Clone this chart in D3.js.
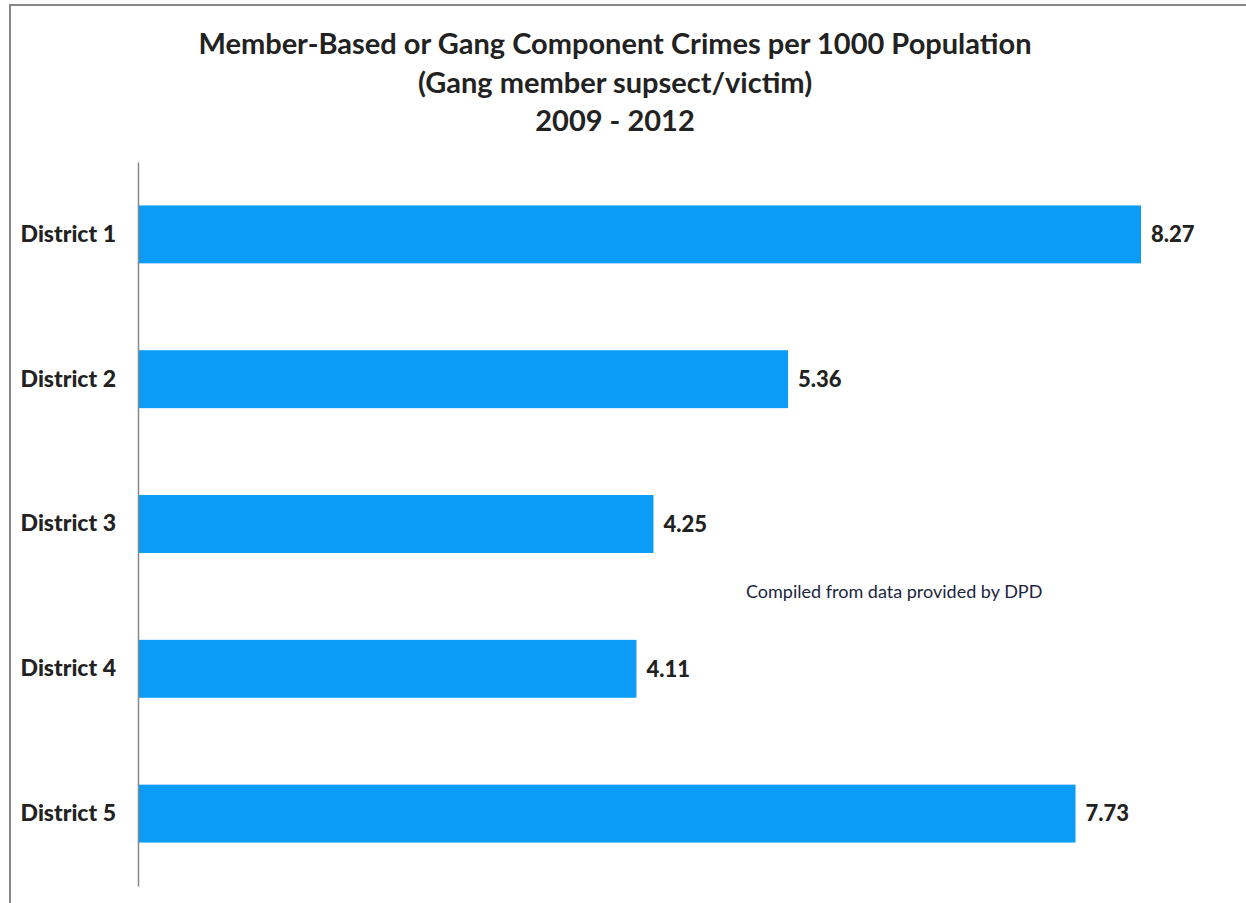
<!DOCTYPE html>
<html><head><meta charset="utf-8">
<script src="https://cdn.jsdelivr.net/npm/d3@7"></script>
<style>body{margin:0;background:#fff;}svg{display:block;}</style>
</head><body>
<svg id="chart" width="1246" height="903"></svg>
<script>
const categories = ["District 1","District 2","District 3","District 4","District 5"];
const values = [8.27, 5.36, 4.25, 4.11, 7.73];
const valueLabels = ["8.27","5.36","4.25","4.11","7.73"];
const titleLines = ["Member-Based or Gang Component Crimes per 1000 Population","(Gang member supsect/victim)","2009 - 2012"];
const note = "Compiled from data provided by DPD";

const svg = d3.select("#chart");
const font = "Lato, 'Open Sans', sans-serif";

// frame
svg.append("rect").attr("x",10).attr("y",5).attr("width",1250).attr("height",910)
  .attr("fill","none").attr("stroke","#888").attr("stroke-width",2);

const x0 = 138;
const x = d3.scaleLinear().domain([0, 8.27]).range([x0, 1141]);
const y = d3.scaleBand().domain(categories).range([162, 886]).paddingInner(0.6).paddingOuter(0.3);

// title
svg.append("g").selectAll("text").data(titleLines).join("text")
  .attr("x", 615).attr("y",(d,i)=>54+i*38.5)
  .attr("text-anchor","middle").attr("font-family",font).attr("font-weight","bold")
  .attr("font-size",29).attr("fill","#222").text(d=>d);

// bars
svg.append("g").selectAll("rect").data(values).join("rect")
  .attr("x", x(0)).attr("y",(d,i)=>y(categories[i]))
  .attr("width", d=>x(d)-x(0)).attr("height", y.bandwidth())
  .attr("fill","#0A9CF6");

// axis
const yAxis = d3.axisLeft(y).tickSize(0).tickPadding(22);
const ag = svg.append("g").attr("transform",`translate(${x0},0)`).call(yAxis);
ag.select(".domain").attr("stroke","#888").attr("stroke-width",1.5);
ag.selectAll("text").attr("font-family",font).attr("font-weight","900").attr("font-size",23).attr("fill","#222");

// value labels
svg.append("g").selectAll("text").data(values).join("text")
  .attr("x", d=>x(d)+10).attr("y",(d,i)=>y(categories[i])+y.bandwidth()/2)
  .attr("dy","0.35em").attr("font-family",font).attr("font-weight","900")
  .attr("font-size",22).attr("fill","#222").text((d,i)=>valueLabels[i]);

// note
svg.append("text").attr("x",746).attr("y",598).attr("font-family",font)
  .attr("font-size",18).attr("fill","#1c2540").text(note);
</script>
</body></html>
